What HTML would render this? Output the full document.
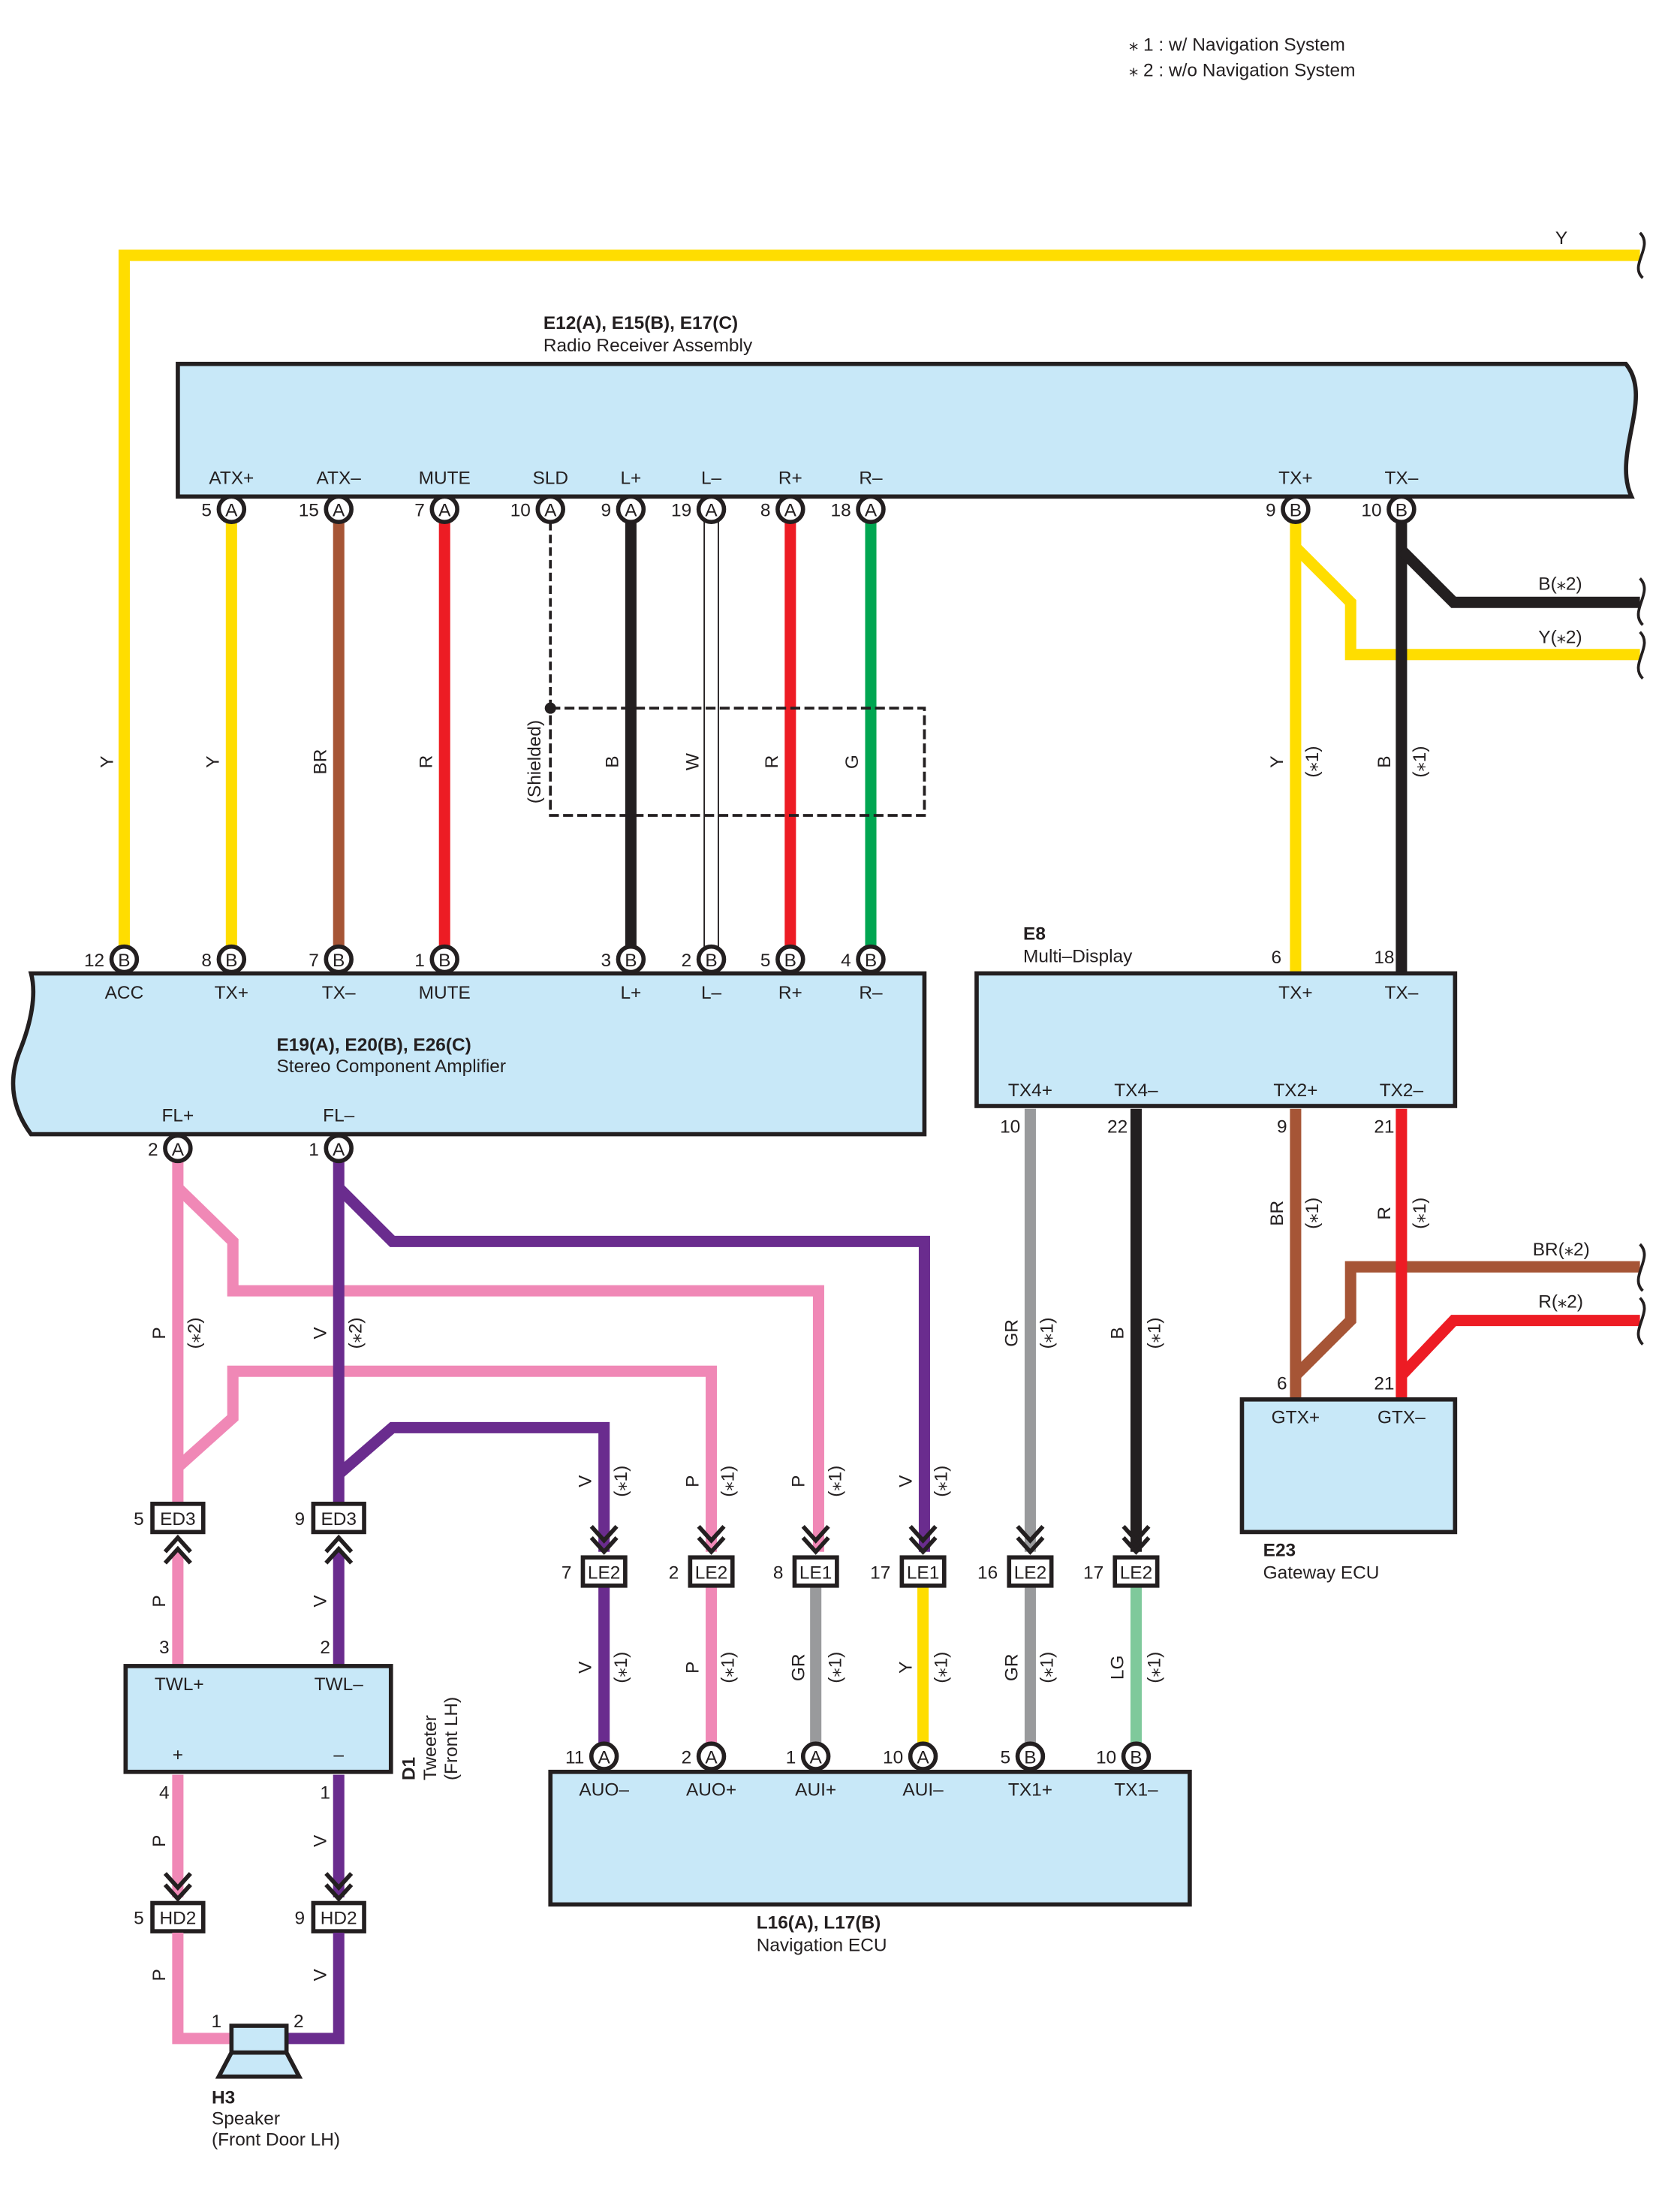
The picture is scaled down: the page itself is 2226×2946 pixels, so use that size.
<!DOCTYPE html>
<html><head><meta charset="utf-8"><style>
html,body{margin:0;padding:0;background:#fff}
svg{display:block}
text{font-family:"Liberation Sans",sans-serif;font-size:13px;fill:#231f20}
.b{font-weight:bold}
.c{text-anchor:middle}
.r{text-anchor:end}
.pin circle{fill:#fff;stroke:#231f20;stroke-width:3}
.w{fill:none;stroke-width:8;stroke-linejoin:miter}
.box{fill:#c8e8f8;stroke:#231f20;stroke-width:3}
.conn rect{fill:#fff;stroke:#231f20;stroke-width:3}
.chev{fill:none;stroke:#231f20;stroke-width:3}
</style></head><body>
<svg width="2226" height="2946" viewBox="0 0 1184 1568" preserveAspectRatio="none" xmlns="http://www.w3.org/2000/svg">
<!-- legend -->
<text x="800" y="36">⁎ 1 : w/ Navigation System</text>
<text x="800" y="54">⁎ 2 : w/o Navigation System</text>

<!-- top Y wire -->
<path class="w" stroke="#ffdd00" d="M88,680 V181 H1162"/>
<text x="1102" y="173">Y</text>
<path d="M1162,165 C1172,175 1154,188 1164,197" fill="none" stroke="#231f20" stroke-width="2"/>

<!-- Radio receiver -->
<text x="385" y="233" class="b">E12(A), E15(B), E17(C)</text>
<text x="385" y="249">Radio Receiver Assembly</text>
<path class="box" d="M126,258 H1152 C1172,282 1142,322 1156,352 H126 Z"/>
<text x="164" y="343" class="c">ATX+</text>
<text x="240" y="343" class="c">ATX–</text>
<text x="315" y="343" class="c">MUTE</text>
<text x="390" y="343" class="c">SLD</text>
<text x="447" y="343" class="c">L+</text>
<text x="504" y="343" class="c">L–</text>
<text x="560" y="343" class="c">R+</text>
<text x="617" y="343" class="c">R–</text>
<text x="918" y="343" class="c">TX+</text>
<text x="993" y="343" class="c">TX–</text>

<!-- vertical wires radio -> amp -->
<path class="w" stroke="#ffdd00" d="M164,370 V672"/>
<path class="w" stroke="#a65536" d="M240,370 V672"/>
<path class="w" stroke="#ed1c24" d="M315,370 V672"/>
<path class="w" stroke="#231f20" d="M447,370 V672"/>
<path fill="#fff" stroke="#231f20" stroke-width="1" d="M499,370 V672 M509,370 V672"/>
<path class="w" stroke="#ed1c24" d="M560,370 V672"/>
<path class="w" stroke="#00a651" d="M617,370 V672"/>
<!-- shield -->
<path d="M390,370 V502" stroke="#231f20" stroke-width="2" stroke-dasharray="6,3" fill="none"/>
<rect x="390" y="502" width="265" height="76" fill="none" stroke="#231f20" stroke-width="2" stroke-dasharray="7,3"/>
<circle cx="390" cy="502" r="4" fill="#231f20"/>
<text transform="translate(383,540) rotate(-90)" class="c">(Shielded)</text>
<text transform="translate(80,540) rotate(-90)" class="c">Y</text>
<text transform="translate(155,540) rotate(-90)" class="c">Y</text>
<text transform="translate(231,540) rotate(-90)" class="c">BR</text>
<text transform="translate(306,540) rotate(-90)" class="c">R</text>
<text transform="translate(438,540) rotate(-90)" class="c">B</text>
<text transform="translate(495,540) rotate(-90)" class="c">W</text>
<text transform="translate(551,540) rotate(-90)" class="c">R</text>
<text transform="translate(608,540) rotate(-90)" class="c">G</text>

<!-- TX+/TX- to multi display & branches -->
<path class="w" stroke="#ffdd00" d="M918,370 V690"/>
<path class="w" stroke="#ffdd00" d="M918,388 L957,427 V464 H1162"/>
<path class="w" stroke="#231f20" d="M993,370 V690"/>
<path class="w" stroke="#231f20" d="M993,390 L1030,427 H1162"/>
<text x="1090" y="418">B(⁎2)</text>
<text x="1090" y="456">Y(⁎2)</text>
<path d="M1162,410 C1172,420 1154,433 1164,443" fill="none" stroke="#231f20" stroke-width="2"/>
<path d="M1162,448 C1172,458 1154,471 1164,481" fill="none" stroke="#231f20" stroke-width="2"/>
<text transform="translate(909,540) rotate(-90)" class="c">Y</text>
<text transform="translate(934,540) rotate(-90)" class="c">(⁎1)</text>
<text transform="translate(985,540) rotate(-90)" class="c">B</text>
<text transform="translate(1010,540) rotate(-90)" class="c">(⁎1)</text>

<!-- Amplifier -->
<path class="box" d="M22,690 H655 V804 H22 C8,785 6,765 14,745 C22,725 26,705 22,690 Z"/>
<text x="88" y="708" class="c">ACC</text>
<text x="164" y="708" class="c">TX+</text>
<text x="240" y="708" class="c">TX–</text>
<text x="315" y="708" class="c">MUTE</text>
<text x="447" y="708" class="c">L+</text>
<text x="504" y="708" class="c">L–</text>
<text x="560" y="708" class="c">R+</text>
<text x="617" y="708" class="c">R–</text>
<text x="196" y="745" class="b">E19(A), E20(B), E26(C)</text>
<text x="196" y="760">Stereo Component Amplifier</text>
<text x="126" y="795" class="c">FL+</text>
<text x="240" y="795" class="c">FL–</text>

<!-- Multi display -->
<text x="725" y="666" class="b">E8</text>
<text x="725" y="682">Multi–Display</text>
<text x="908" y="683" class="r">6</text>
<text x="988" y="683" class="r">18</text>
<rect class="box" x="692" y="690" width="339" height="94"/>
<text x="918" y="708" class="c">TX+</text>
<text x="993" y="708" class="c">TX–</text>
<text x="730" y="777" class="c">TX4+</text>
<text x="805" y="777" class="c">TX4–</text>
<text x="918" y="777" class="c">TX2+</text>
<text x="993" y="777" class="c">TX2–</text>
<text x="723" y="803" class="r">10</text>
<text x="799" y="803" class="r">22</text>
<text x="912" y="803" class="r">9</text>
<text x="988" y="803" class="r">21</text>

<path class="w" stroke="#999a9c" d="M730,786 V1100"/>
<path class="w" stroke="#231f20" d="M805,786 V1100"/>
<text transform="translate(721,945) rotate(-90)" class="c">GR</text>
<text transform="translate(746,945) rotate(-90)" class="c">(⁎1)</text>
<text transform="translate(796,945) rotate(-90)" class="c">B</text>
<text transform="translate(822,945) rotate(-90)" class="c">(⁎1)</text>

<path class="w" stroke="#a65536" d="M918,786 V992"/>
<path class="w" stroke="#a65536" d="M918,975 L957,936 V898 H1162"/>
<path class="w" stroke="#ed1c24" d="M993,786 V992"/>
<path class="w" stroke="#ed1c24" d="M993,975 L1030,936 H1162"/>
<text x="1086" y="890">BR(⁎2)</text>
<text x="1090" y="927">R(⁎2)</text>
<path d="M1162,882 C1172,892 1154,905 1164,915" fill="none" stroke="#231f20" stroke-width="2"/>
<path d="M1162,920 C1172,930 1154,943 1164,953" fill="none" stroke="#231f20" stroke-width="2"/>
<text transform="translate(909,860) rotate(-90)" class="c">BR</text>
<text transform="translate(934,860) rotate(-90)" class="c">(⁎1)</text>
<text transform="translate(985,860) rotate(-90)" class="c">R</text>
<text transform="translate(1010,860) rotate(-90)" class="c">(⁎1)</text>

<!-- Gateway -->
<text x="912" y="985" class="r">6</text>
<text x="988" y="985" class="r">21</text>
<rect class="box" x="880" y="992" width="151" height="94"/>
<text x="918" y="1009" class="c">GTX+</text>
<text x="993" y="1009" class="c">GTX–</text>
<text x="895" y="1103" class="b">E23</text>
<text x="895" y="1119">Gateway ECU</text>

<!-- FL+ pink -->
<path class="w" stroke="#f088b6" d="M126,822 V1068"/>
<path class="w" stroke="#f088b6" d="M126,842 L165,880 V915 H580 V1100"/>
<path class="w" stroke="#f088b6" d="M126,1040 L165,1005 V972 H504 V1100"/>
<!-- FL- purple -->
<path class="w" stroke="#6a2c8e" d="M240,822 V1068"/>
<path class="w" stroke="#6a2c8e" d="M240,842 L278,880 H655 V1100"/>
<path class="w" stroke="#6a2c8e" d="M240,1045 L278,1012 H428 V1100"/>
<text transform="translate(117,945) rotate(-90)" class="c">P</text>
<text transform="translate(142,945) rotate(-90)" class="c">(⁎2)</text>
<text transform="translate(231,945) rotate(-90)" class="c">V</text>
<text transform="translate(256,945) rotate(-90)" class="c">(⁎2)</text>
<text transform="translate(419,1050) rotate(-90)" class="c">V</text>
<text transform="translate(444,1050) rotate(-90)" class="c">(⁎1)</text>
<text transform="translate(495,1050) rotate(-90)" class="c">P</text>
<text transform="translate(520,1050) rotate(-90)" class="c">(⁎1)</text>
<text transform="translate(570,1050) rotate(-90)" class="c">P</text>
<text transform="translate(596,1050) rotate(-90)" class="c">(⁎1)</text>
<text transform="translate(646,1050) rotate(-90)" class="c">V</text>
<text transform="translate(671,1050) rotate(-90)" class="c">(⁎1)</text>

<!-- LE to Nav wires -->
<path class="w" stroke="#6a2c8e" d="M428,1120 V1240"/>
<path class="w" stroke="#f088b6" d="M504,1120 V1240"/>
<path class="w" stroke="#999a9c" d="M578,1120 V1240"/>
<path class="w" stroke="#ffdd00" d="M654,1120 V1240"/>
<path class="w" stroke="#999a9c" d="M730,1120 V1240"/>
<path class="w" stroke="#7fc99b" d="M805,1120 V1240"/>
<text transform="translate(419,1182) rotate(-90)" class="c">V</text>
<text transform="translate(444,1182) rotate(-90)" class="c">(⁎1)</text>
<text transform="translate(495,1182) rotate(-90)" class="c">P</text>
<text transform="translate(520,1182) rotate(-90)" class="c">(⁎1)</text>
<text transform="translate(570,1182) rotate(-90)" class="c">GR</text>
<text transform="translate(596,1182) rotate(-90)" class="c">(⁎1)</text>
<text transform="translate(646,1182) rotate(-90)" class="c">Y</text>
<text transform="translate(671,1182) rotate(-90)" class="c">(⁎1)</text>
<text transform="translate(721,1182) rotate(-90)" class="c">GR</text>
<text transform="translate(746,1182) rotate(-90)" class="c">(⁎1)</text>
<text transform="translate(796,1182) rotate(-90)" class="c">LG</text>
<text transform="translate(822,1182) rotate(-90)" class="c">(⁎1)</text>

<!-- down chevrons above LE -->
<g class="chev">
<path d="M419,1082 L428,1092 L437,1082 M419,1090 L428,1100 L437,1090"/>
<path d="M495,1082 L504,1092 L513,1082 M495,1090 L504,1100 L513,1090"/>
<path d="M569,1082 L578,1092 L587,1082 M569,1090 L578,1100 L587,1090"/>
<path d="M645,1082 L654,1092 L663,1082 M645,1090 L654,1100 L663,1090"/>
<path d="M721,1082 L730,1092 L739,1082 M721,1090 L730,1100 L739,1090"/>
<path d="M796,1082 L805,1092 L814,1082 M796,1090 L805,1100 L814,1090"/>
</g>
<g class="conn">
<rect x="413" y="1104" width="30" height="20"/><text x="428" y="1119" class="c">LE2</text><text x="405" y="1119" class="r">7</text>
<rect x="489" y="1104" width="30" height="20"/><text x="504" y="1119" class="c">LE2</text><text x="481" y="1119" class="r">2</text>
<rect x="563" y="1104" width="30" height="20"/><text x="578" y="1119" class="c">LE1</text><text x="555" y="1119" class="r">8</text>
<rect x="639" y="1104" width="30" height="20"/><text x="654" y="1119" class="c">LE1</text><text x="631" y="1119" class="r">17</text>
<rect x="715" y="1104" width="30" height="20"/><text x="730" y="1119" class="c">LE2</text><text x="707" y="1119" class="r">16</text>
<rect x="790" y="1104" width="30" height="20"/><text x="805" y="1119" class="c">LE2</text><text x="782" y="1119" class="r">17</text>
</g>

<!-- Nav ECU -->
<rect class="box" x="390" y="1256" width="453" height="94"/>
<text x="428" y="1273" class="c">AUO–</text>
<text x="504" y="1273" class="c">AUO+</text>
<text x="578" y="1273" class="c">AUI+</text>
<text x="654" y="1273" class="c">AUI–</text>
<text x="730" y="1273" class="c">TX1+</text>
<text x="805" y="1273" class="c">TX1–</text>
<text x="536" y="1367" class="b">L16(A), L17(B)</text>
<text x="536" y="1383">Navigation ECU</text>

<!-- ED3 and tweeter -->
<g class="conn">
<rect x="108" y="1066" width="36" height="20"/><text x="126" y="1081" class="c">ED3</text><text x="102" y="1081" class="r">5</text>
<rect x="222" y="1066" width="36" height="20"/><text x="240" y="1081" class="c">ED3</text><text x="216" y="1081" class="r">9</text>
</g>
<path class="w" stroke="#f088b6" d="M126,1100 V1181"/>
<path class="w" stroke="#6a2c8e" d="M240,1100 V1181"/>
<g class="chev">
<path d="M117,1100 L126,1090 L135,1100 M117,1108 L126,1098 L135,1108"/>
<path d="M231,1100 L240,1090 L249,1100 M231,1108 L240,1098 L249,1108"/>
</g>
<text transform="translate(117,1135) rotate(-90)" class="c">P</text>
<text transform="translate(231,1135) rotate(-90)" class="c">V</text>
<text x="120" y="1172" class="r">3</text>
<text x="234" y="1172" class="r">2</text>
<rect class="box" x="89" y="1181" width="188" height="75"/>
<text x="127" y="1198" class="c">TWL+</text>
<text x="240" y="1198" class="c">TWL–</text>
<text x="126" y="1248" class="c">+</text>
<text x="240" y="1248" class="c">–</text>
<text transform="translate(294,1262) rotate(-90)" class="b">D1</text>
<text transform="translate(309,1262) rotate(-90)">Tweeter</text>
<text transform="translate(324,1262) rotate(-90)">(Front LH)</text>
<text x="120" y="1275" class="r">4</text>
<text x="234" y="1275" class="r">1</text>
<path class="w" stroke="#f088b6" d="M126,1258 V1345"/>
<path class="w" stroke="#6a2c8e" d="M240,1258 V1345"/>
<text transform="translate(117,1305) rotate(-90)" class="c">P</text>
<text transform="translate(231,1305) rotate(-90)" class="c">V</text>
<g class="chev">
<path d="M117,1328 L126,1338 L135,1328 M117,1336 L126,1346 L135,1336"/>
<path d="M231,1328 L240,1338 L249,1328 M231,1336 L240,1346 L249,1336"/>
</g>
<g class="conn">
<rect x="108" y="1349" width="36" height="20"/><text x="126" y="1364" class="c">HD2</text><text x="102" y="1364" class="r">5</text>
<rect x="222" y="1349" width="36" height="20"/><text x="240" y="1364" class="c">HD2</text><text x="216" y="1364" class="r">9</text>
</g>
<path class="w" stroke="#f088b6" d="M126,1370 V1445 H165"/>
<path class="w" stroke="#6a2c8e" d="M240,1370 V1445 H202"/>
<text transform="translate(117,1400) rotate(-90)" class="c">P</text>
<text transform="translate(231,1400) rotate(-90)" class="c">V</text>
<text x="157" y="1437" class="r">1</text>
<text x="208" y="1437">2</text>
<rect x="164" y="1436" width="39" height="19" fill="#c8e8f8" stroke="#231f20" stroke-width="3"/>
<path d="M164,1455 L155,1472 H212 L203,1455 Z" fill="#c8e8f8" stroke="#231f20" stroke-width="3"/>
<text x="150" y="1491" class="b">H3</text>
<text x="150" y="1506">Speaker</text>
<text x="150" y="1521">(Front Door LH)</text>

<!-- pins -->
<g class="pin">
<circle cx="164" cy="361" r="9"/><text x="164" y="366" class="c">A</text><text x="150" y="366" class="r">5</text>
<circle cx="240" cy="361" r="9"/><text x="240" y="366" class="c">A</text><text x="226" y="366" class="r">15</text>
<circle cx="315" cy="361" r="9"/><text x="315" y="366" class="c">A</text><text x="301" y="366" class="r">7</text>
<circle cx="390" cy="361" r="9"/><text x="390" y="366" class="c">A</text><text x="376" y="366" class="r">10</text>
<circle cx="447" cy="361" r="9"/><text x="447" y="366" class="c">A</text><text x="433" y="366" class="r">9</text>
<circle cx="504" cy="361" r="9"/><text x="504" y="366" class="c">A</text><text x="490" y="366" class="r">19</text>
<circle cx="560" cy="361" r="9"/><text x="560" y="366" class="c">A</text><text x="546" y="366" class="r">8</text>
<circle cx="617" cy="361" r="9"/><text x="617" y="366" class="c">A</text><text x="603" y="366" class="r">18</text>
<circle cx="918" cy="361" r="9"/><text x="918" y="366" class="c">B</text><text x="904" y="366" class="r">9</text>
<circle cx="993" cy="361" r="9"/><text x="993" y="366" class="c">B</text><text x="979" y="366" class="r">10</text>

<circle cx="88" cy="680" r="9"/><text x="88" y="685" class="c">B</text><text x="74" y="685" class="r">12</text>
<circle cx="164" cy="680" r="9"/><text x="164" y="685" class="c">B</text><text x="150" y="685" class="r">8</text>
<circle cx="240" cy="680" r="9"/><text x="240" y="685" class="c">B</text><text x="226" y="685" class="r">7</text>
<circle cx="315" cy="680" r="9"/><text x="315" y="685" class="c">B</text><text x="301" y="685" class="r">1</text>
<circle cx="447" cy="680" r="9"/><text x="447" y="685" class="c">B</text><text x="433" y="685" class="r">3</text>
<circle cx="504" cy="680" r="9"/><text x="504" y="685" class="c">B</text><text x="490" y="685" class="r">2</text>
<circle cx="560" cy="680" r="9"/><text x="560" y="685" class="c">B</text><text x="546" y="685" class="r">5</text>
<circle cx="617" cy="680" r="9"/><text x="617" y="685" class="c">B</text><text x="603" y="685" class="r">4</text>

<circle cx="126" cy="814" r="9"/><text x="126" y="819" class="c">A</text><text x="112" y="819" class="r">2</text>
<circle cx="240" cy="814" r="9"/><text x="240" y="819" class="c">A</text><text x="226" y="819" class="r">1</text>

<circle cx="428" cy="1245" r="9"/><text x="428" y="1250" class="c">A</text><text x="414" y="1250" class="r">11</text>
<circle cx="504" cy="1245" r="9"/><text x="504" y="1250" class="c">A</text><text x="490" y="1250" class="r">2</text>
<circle cx="578" cy="1245" r="9"/><text x="578" y="1250" class="c">A</text><text x="564" y="1250" class="r">1</text>
<circle cx="654" cy="1245" r="9"/><text x="654" y="1250" class="c">A</text><text x="640" y="1250" class="r">10</text>
<circle cx="730" cy="1245" r="9"/><text x="730" y="1250" class="c">B</text><text x="716" y="1250" class="r">5</text>
<circle cx="805" cy="1245" r="9"/><text x="805" y="1250" class="c">B</text><text x="791" y="1250" class="r">10</text>
</g>
</svg>
</body></html>
